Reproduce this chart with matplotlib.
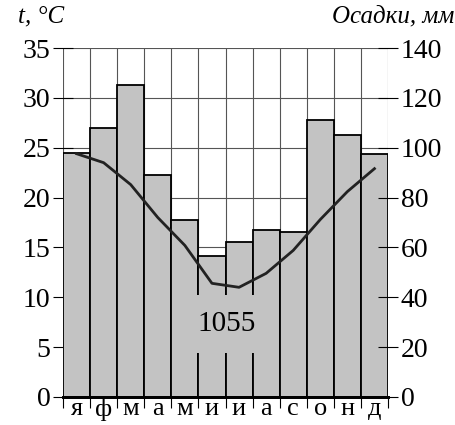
import matplotlib
matplotlib.use("Agg")
import matplotlib.pyplot as plt
import numpy as np

months = ["я", "ф", "м", "а", "м", "и", "и", "а", "с", "о", "н", "д"]
precip_mm = [98, 108, 125, 89, 71, 56.5, 62, 67, 66, 111, 105, 97.5]
temp_c = [24.4, 23.5, 21.3, 18.0, 15.2, 11.4, 11.0, 12.4, 14.7, 17.8, 20.6, 22.9]
total_label = "1055"
t_ticks = [0, 5, 10, 15, 20, 25, 30, 35]
p_ticks = [0, 20, 40, 60, 80, 100, 120, 140]

plt.rcParams['font.family'] = ['Liberation Serif', 'DejaVu Serif']

fig = plt.figure(figsize=(4.56, 4.25), dpi=100)
ax = fig.add_axes([63/456, 1-397/425, (388-63)/456, (397-48)/425])
ax2 = ax.twinx()

x = np.arange(12) + 0.5
# grid
for b in range(13):
    ax.axvline(b, color="#555555", lw=0.8, zorder=0)
for t in t_ticks:
    ax.axhline(t, color="#555555", lw=0.8, zorder=0)

scale = 35/140
ax.bar(x, [p*scale for p in precip_mm], width=1.0, color="#c3c3c3",
       edgecolor="black", linewidth=1.3, zorder=2)
ax.plot(x, temp_c, color="#222222", lw=2.0, zorder=4)
ax.text(6.05, 7.3, total_label, ha="center", va="center", fontsize=21, zorder=5,
        bbox=dict(boxstyle="square,pad=0.55", facecolor="#c3c3c3", edgecolor="none"))

ax.set_xlim(0, 12)
ax.set_ylim(0, 35)
ax2.set_ylim(0, 140)
ax.set_yticks(t_ticks)
ax2.set_yticks(p_ticks)
ax.set_xticks(range(13))
ax.set_xticklabels([])
ax.set_xticks(x, minor=True)
ax.set_xticklabels(months, minor=True, fontsize=19)
ax.tick_params(axis="x", which="minor", length=0, pad=1)
ax.tick_params(axis="x", which="major", length=8, direction="out", width=0.8)
ax.tick_params(axis="y", direction="inout", length=14, width=0.8, labelsize=20, pad=2)
ax2.tick_params(axis="y", direction="inout", length=14, width=0.8, labelsize=20, pad=2)

for a in (ax, ax2):
    for s in ("left", "right", "top"):
        a.spines[s].set_visible(False)
    a.spines["bottom"].set_linewidth(2.0)

fig.text(18/456, 1-16/425, "t, °C", fontsize=18, style="italic", va="center", ha="left")
fig.text(454/456, 1-16/425, "Осадки, мм", fontsize=18, style="italic", va="center", ha="right")

fig.savefig("out.png", dpi=100)
